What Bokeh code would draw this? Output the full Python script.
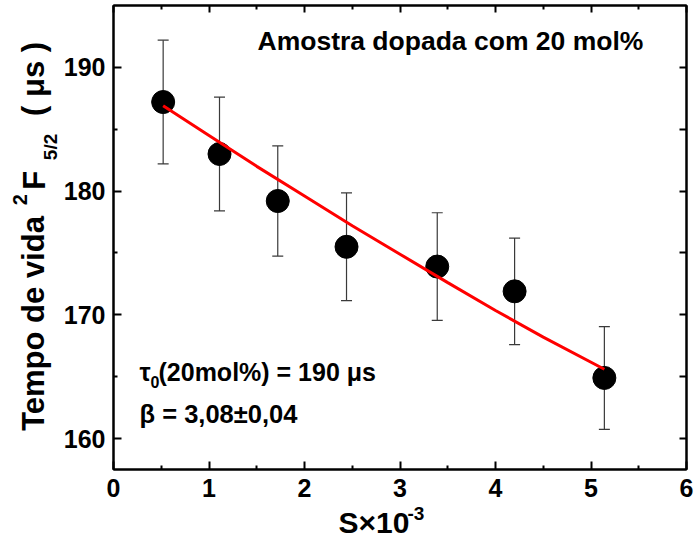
import math
from bokeh.plotting import figure
from bokeh.layouts import row, column
from bokeh.models import (ColumnDataSource, Whisker, TeeHead, FixedTicker,
                          LinearAxis, Label, Range1d, CustomJSTickFormatter)
from bokeh.embed import file_html
from bokeh.resources import INLINE

# Measured lifetimes of the 2F5/2 level versus S (x 10^-3)
s_values = [0.52, 1.11, 1.72, 2.44, 3.39, 4.20, 5.14]
tau_values = [187.2, 183.0, 179.2, 175.5, 173.9, 171.9, 164.9]
tau_errors = [5.0, 4.6, 4.45, 4.35, 4.35, 4.3, 4.15]

# Fitted curve (tau0 = 190 us, beta = 3.08)
fit_s = [0.52, 1.0, 1.5, 2.0, 2.5, 3.0, 3.5, 4.0, 4.5, 5.14]
fit_tau = [186.9, 184.5, 182.0, 179.6, 177.2, 174.9, 172.6, 170.35, 168.2, 165.6]

x_ticks = [0, 1, 2, 3, 4, 5, 6]
x_minor = [0.5, 1.5, 2.5, 3.5, 4.5, 5.5]
y_ticks = [160, 170, 180, 190]
y_minor = [165, 175, 185]

FONT = "Liberation Sans"
W, H = 694, 543
YLAB_W = 60          # strip holding the rotated y title
MAIN_H = 504         # main plot height; the x title strip sits below it
LEFT, RIGHT, TOP, BOTTOM = 113, 686, 5, 469   # frame edges in page pixels
XMIN, XMAX, YMIN, YMAX = 0.0, 6.0, 157.5, 195.0

p = figure(width=W - YLAB_W, height=MAIN_H, output_backend="svg",
           toolbar_location=None,
           x_range=Range1d(XMIN, XMAX), y_range=Range1d(YMIN, YMAX),
           min_border_left=LEFT - YLAB_W, min_border_right=W - RIGHT,
           min_border_top=TOP, min_border_bottom=MAIN_H - BOTTOM)
p.grid.visible = False
p.background_fill_color = "white"
p.border_fill_color = "white"
p.outline_line_color = "black"
p.outline_line_width = 2

for ax in (p.xaxis[0], p.yaxis[0]):
    ax.axis_line_width = 2
    ax.axis_line_color = "black"
    ax.major_tick_in = 8
    ax.major_tick_out = 0
    ax.minor_tick_in = 4
    ax.minor_tick_out = 0
    ax.major_tick_line_width = 2
    ax.minor_tick_line_width = 2
    ax.major_label_text_font = FONT
    ax.major_label_text_font_style = "bold"
    ax.major_label_text_font_size = "25px"
    ax.major_label_text_color = "black"
    ax.major_label_text_line_height = 1.0

p.xaxis[0].ticker = FixedTicker(ticks=x_ticks, minor_ticks=x_minor)
p.yaxis[0].ticker = FixedTicker(ticks=y_ticks, minor_ticks=y_minor)
p.xaxis[0].major_label_standoff = 9
p.yaxis[0].major_label_standoff = 8

# Mirror ticks on the top and right edges, without labels
blank = CustomJSTickFormatter(code="return ''")
top_ax = LinearAxis(ticker=FixedTicker(ticks=x_ticks, minor_ticks=x_minor),
                    formatter=blank)
right_ax = LinearAxis(ticker=FixedTicker(ticks=y_ticks + y_minor, minor_ticks=[]),
                      formatter=blank)
for ax in (top_ax, right_ax):
    ax.axis_line_width = 2
    ax.major_tick_in = 7
    ax.major_tick_out = 0
    ax.minor_tick_in = 4
    ax.minor_tick_out = 0
    ax.major_tick_line_width = 2
    ax.minor_tick_line_width = 2
    ax.major_label_standoff = 0
p.add_layout(top_ax, "above")
p.add_layout(right_ax, "right")

src = ColumnDataSource(dict(
    s=s_values, tau=tau_values,
    upper=[t + e for t, e in zip(tau_values, tau_errors)],
    lower=[t - e for t, e in zip(tau_values, tau_errors)],
))

p.add_layout(Whisker(source=src, base="s", upper="upper", lower="lower",
                     dimension="height", line_color="#3a3a3a", line_width=1.2,
                     upper_head=TeeHead(size=11, line_color="#3a3a3a", line_width=1.2),
                     lower_head=TeeHead(size=11, line_color="#3a3a3a", line_width=1.2),
                     level="underlay"))

p.scatter("s", "tau", source=src, size=23, color="black", marker="circle")
p.line(fit_s, fit_tau, line_color="#ff0000", line_width=3)


def dx(px):
    return XMIN + (px - LEFT) * (XMAX - XMIN) / (RIGHT - LEFT)


def dy(py):
    return YMAX - (py - TOP) * (YMAX - YMIN) / (BOTTOM - TOP)


def label(fig, text, x, y, size, angle=0.0):
    # (x, y) is the start of the text and the middle of its line box
    fig.add_layout(Label(x=x, y=y, text=text, angle=angle,
                         text_font=FONT, text_font_style="bold",
                         text_font_size=f"{size}px", text_color="black",
                         text_line_height=1.0,
                         text_align="left", text_baseline="middle"))


# Annotations inside the frame
label(p, "Amostra dopada com 20 mol%", dx(257), dy(40.5), 26.5)
label(p, "\u03c4", dx(139), dy(371), 25)
label(p, "0", dx(150), dy(381), 16)
label(p, "(20mol%) = 190 \u03bcs", dx(158), dy(371), 25)
label(p, "\u03b2 = 3,08\u00b10,04", dx(139), dy(413.5), 25.5)


def text_strip(left, top, width, height):
    # a plain canvas whose data units are page pixels (y counted from the top)
    f = figure(width=width, height=height, output_backend="svg",
               toolbar_location=None, x_axis_type=None, y_axis_type=None,
               x_range=Range1d(left, left + width),
               y_range=Range1d(top + height, top), min_border=0)
    f.outline_line_color = None
    f.grid.visible = False
    return f


# y-axis title: Tempo de vida 2F5/2 ( us ), rotated to read upwards
ylab = text_strip(0, 0, YLAB_W, MAIN_H)
rot = math.pi / 2
label(ylab, "Tempo de vida", 33, 462, 31, rot)
label(ylab, "2", 19, 217, 20, rot)
label(ylab, "F", 34, 200, 31, rot)
label(ylab, "5/2", 49.5, 168, 19, rot)
label(ylab, "( \u03bcs )", 33, 120, 31, rot)

# x-axis title: S x 10^-3
xlab = text_strip(0, MAIN_H, W, H - MAIN_H)
label(xlab, "S\u00d710", 338, 522, 30)
label(xlab, "-3", 407, 513, 19)

layout = column(row(ylab, p), xlab)
open("out.html", "w").write(file_html(layout, INLINE))
